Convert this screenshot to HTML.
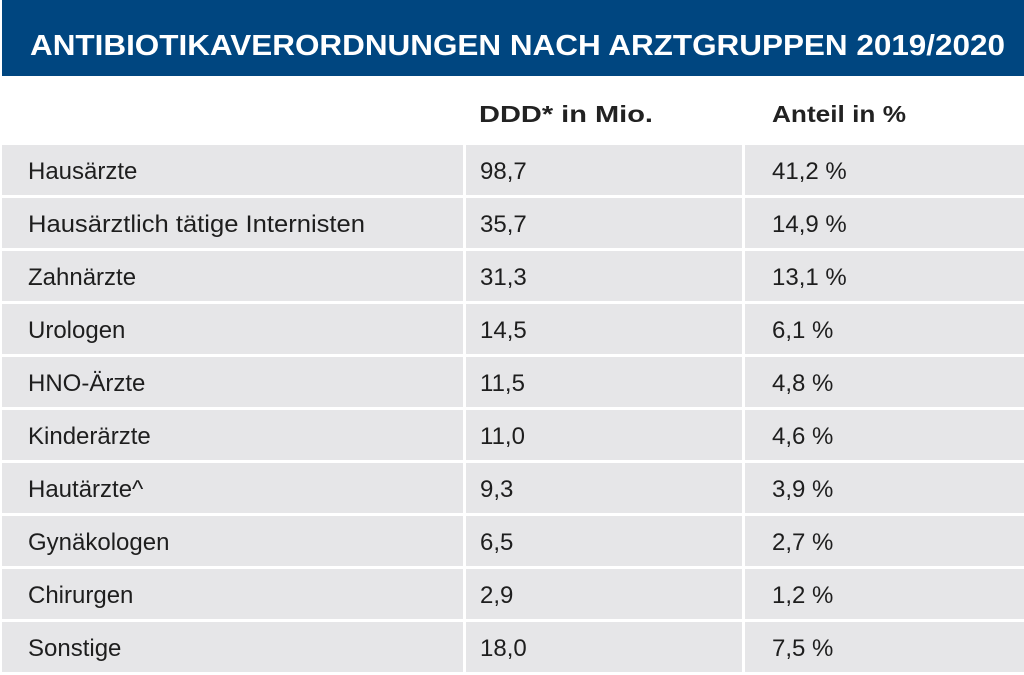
<!DOCTYPE html>
<html><head><meta charset="utf-8"><style>
html,body{margin:0;padding:0;background:#fff;}
svg{display:block;}
text{font-family:"Liberation Sans",sans-serif;}
</style></head><body>
<svg width="1024" height="675" xmlns="http://www.w3.org/2000/svg">
<rect x="0" y="0" width="1024" height="675" fill="#fff"/>
<rect x="2" y="0" width="1022" height="76" fill="#004680"/>
<text x="30" y="55" fill="#fff" font-size="29" font-weight="bold" textLength="975" lengthAdjust="spacingAndGlyphs">ANTIBIOTIKAVERORDNUNGEN NACH ARZTGRUPPEN 2019/2020</text>
<text x="479" y="122" fill="#222" font-size="23" font-weight="bold" textLength="174" lengthAdjust="spacingAndGlyphs">DDD* in Mio.</text>
<text x="772" y="122" fill="#222" font-size="23" font-weight="bold" textLength="134" lengthAdjust="spacingAndGlyphs">Anteil in %</text>
<g fill="#e6e6e8">
<rect x="2" y="145" width="461" height="50"/><rect x="466" y="145" width="276" height="50"/><rect x="745" y="145" width="279" height="50"/>
<rect x="2" y="198" width="461" height="50"/><rect x="466" y="198" width="276" height="50"/><rect x="745" y="198" width="279" height="50"/>
<rect x="2" y="251" width="461" height="50"/><rect x="466" y="251" width="276" height="50"/><rect x="745" y="251" width="279" height="50"/>
<rect x="2" y="304" width="461" height="50"/><rect x="466" y="304" width="276" height="50"/><rect x="745" y="304" width="279" height="50"/>
<rect x="2" y="357" width="461" height="50"/><rect x="466" y="357" width="276" height="50"/><rect x="745" y="357" width="279" height="50"/>
<rect x="2" y="410" width="461" height="50"/><rect x="466" y="410" width="276" height="50"/><rect x="745" y="410" width="279" height="50"/>
<rect x="2" y="463" width="461" height="50"/><rect x="466" y="463" width="276" height="50"/><rect x="745" y="463" width="279" height="50"/>
<rect x="2" y="516" width="461" height="50"/><rect x="466" y="516" width="276" height="50"/><rect x="745" y="516" width="279" height="50"/>
<rect x="2" y="569" width="461" height="50"/><rect x="466" y="569" width="276" height="50"/><rect x="745" y="569" width="279" height="50"/>
<rect x="2" y="622" width="461" height="50"/><rect x="466" y="622" width="276" height="50"/><rect x="745" y="622" width="279" height="50"/>
</g>
<g fill="#1e1e1e" font-size="24">
<text x="28" y="179">Hausärzte</text><text x="480" y="179">98,7</text><text x="772" y="179">41,2 %</text>
<text x="28" y="232" textLength="337" lengthAdjust="spacingAndGlyphs">Hausärztlich tätige Internisten</text><text x="480" y="232">35,7</text><text x="772" y="232">14,9 %</text>
<text x="28" y="285">Zahnärzte</text><text x="480" y="285">31,3</text><text x="772" y="285">13,1 %</text>
<text x="28" y="338">Urologen</text><text x="480" y="338">14,5</text><text x="772" y="338">6,1 %</text>
<text x="28" y="391">HNO-Ärzte</text><text x="480" y="391">11,5</text><text x="772" y="391">4,8 %</text>
<text x="28" y="444">Kinderärzte</text><text x="480" y="444">11,0</text><text x="772" y="444">4,6 %</text>
<text x="28" y="497">Hautärzte^</text><text x="480" y="497">9,3</text><text x="772" y="497">3,9 %</text>
<text x="28" y="550">Gynäkologen</text><text x="480" y="550">6,5</text><text x="772" y="550">2,7 %</text>
<text x="28" y="603">Chirurgen</text><text x="480" y="603">2,9</text><text x="772" y="603">1,2 %</text>
<text x="28" y="656">Sonstige</text><text x="480" y="656">18,0</text><text x="772" y="656">7,5 %</text>
</g>
</svg>
</body></html>
